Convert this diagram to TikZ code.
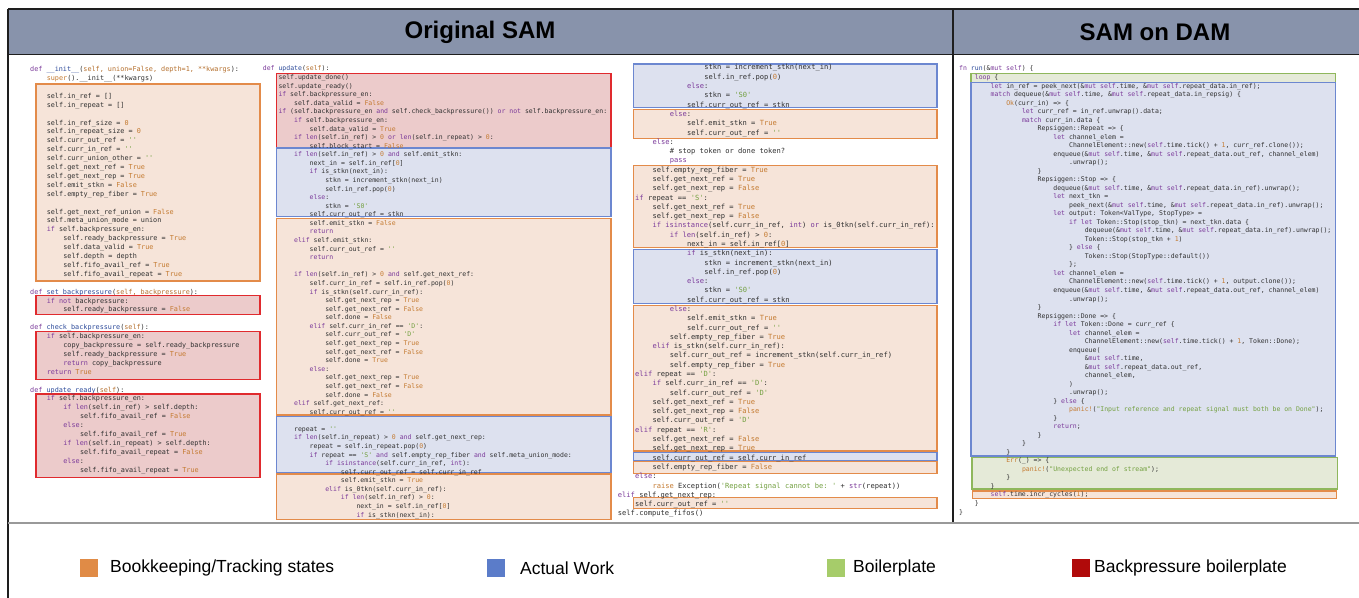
\documentclass[tikz,border=0pt]{standalone}
\usepackage{fontspec}
\setmainfont{Liberation Sans}
\setmonofont{DejaVu Sans Mono}
\definecolor{codec}{HTML}{303030}
\definecolor{kwc}{HTML}{7B3A9A}
\definecolor{fnc}{HTML}{2C4A9A}
\definecolor{vlc}{HTML}{C47A30}
\definecolor{stc}{HTML}{73A040}
\definecolor{pmc}{HTML}{B5702E}
\definecolor{headc}{HTML}{8893AB}
\definecolor{framec}{HTML}{1E1E1E}
\definecolor{oline}{HTML}{E38B4A}\definecolor{ofill}{HTML}{F6E4D9}
\definecolor{bline}{HTML}{6C87D0}\definecolor{bfill}{HTML}{DDE1EF}
\definecolor{rline}{HTML}{E02A2E}\definecolor{rfill}{HTML}{ECCBCB}
\definecolor{gline}{HTML}{8FB75C}\definecolor{gfill}{HTML}{E5EAD8}
\definecolor{legO}{HTML}{E08B46}\definecolor{legB}{HTML}{5B7CC9}
\definecolor{legG}{HTML}{A6CC6A}\definecolor{legR}{HTML}{B00A0A}
% syntax colouring
\newcommand\ckw[1]{\textcolor{kwc}{#1}}
\newcommand\cfn[1]{\textcolor{fnc}{#1}}
\newcommand\cvl[1]{\textcolor{vlc}{#1}}
\newcommand\cst[1]{\textcolor{stc}{#1}}
\newcommand\cpm[1]{\textcolor{pmc}{#1}}
% one code line: {line number}{indent level}{text}
\newcommand\lA[3]{\node[codeA] at ({30+16.6*#2},{69+8.9*#1}) {#3};}
\newcommand\lB[3]{\node[codeB] at ({262.7+15.6*#2},{68.33+8.58*#1}) {#3};}
\newcommand\lC[3]{\node[codeC] at ({617.7+17.3*#2},{67.33+9.29*#1}) {#3};}
\newcommand\lD[3]{\node[codeD] at ({959+15.7*#2},{68.33+8.52*#1}) {#3};}
\tikzset{
  codebase/.style={anchor=mid west, inner sep=0pt, text=codec},
  codeA/.style={codebase, font=\ttfamily\fontsize{6.8}{8}\selectfont},
  codeB/.style={codebase, font=\ttfamily\fontsize{6.5}{8}\selectfont},
  codeC/.style={codebase, font=\ttfamily\fontsize{7.1}{8}\selectfont},
  codeD/.style={codebase, font=\ttfamily\fontsize{6.5}{8}\selectfont},
  obox/.style={draw=oline, fill=ofill, line width=1.5pt},
  bbox/.style={draw=bline, fill=bfill, line width=1.5pt},
  rbox/.style={draw=rline, fill=rfill, line width=1.5pt},
  gbox/.style={draw=gline, fill=gfill, line width=1.5pt},
  legsq/.style={minimum width=18pt, minimum height=18pt, inner sep=0pt},
  legtxt/.style={anchor=west, inner sep=0pt, font=\fontsize{17.5}{21}\selectfont},
  head/.style={font=\bfseries\fontsize{24}{28}\selectfont, inner sep=0pt},
}
\begin{document}
\catcode`\_=12
\begin{tikzpicture}[x=1pt,y=-1pt]
\useasboundingbox (0,0) rectangle (1359,597);
\fill[white] (0,0) rectangle (1359,597);

% frame and header band
\fill[headc] (8,9) rectangle (1362,54.5);
\draw[framec, line width=1.2pt] (8,9) -- (8,600);
\draw[framec, line width=2pt] (8,9) -- (1362,9);
\draw[framec, line width=1.6pt] (8,54.5) -- (1362,54.5);
\draw[framec, line width=2pt] (952.7,9) -- (952.7,523);
\draw[black!40, line width=1.2pt] (8,523) -- (1362,523);
\node[head] (h1) at (480,32) {Original SAM};
\node[head] (h2) at (1155,32) {SAM on DAM};

% ---------- __init__ and helpers ----------
\draw[obox] (36,84) rectangle (260,281);
\draw[rbox] (36,295.7) rectangle (260,314.3);
\draw[rbox] (36,331.7) rectangle (260,379.3);
\draw[rbox] (36,394) rectangle (260,477.7);

\lA{0}{0}{\ckw{def} \cfn{__init__}(\cpm{self, union=False, depth=1, **kwargs}):}
\lA{1}{1}{\cvl{super}().__init__(**kwargs)}
\lA{3}{1}{self.in_ref = []}
\lA{4}{1}{self.in_repeat = []}
\lA{6}{1}{self.in_ref_size = \cvl{0}}
\lA{7}{1}{self.in_repeat_size = \cvl{0}}
\lA{8}{1}{self.curr_out_ref = \cst{''}}
\lA{9}{1}{self.curr_in_ref = \cst{''}}
\lA{10}{1}{self.curr_union_other = \cst{''}}
\lA{11}{1}{self.get_next_ref = \cvl{True}}
\lA{12}{1}{self.get_next_rep = \cvl{True}}
\lA{13}{1}{self.emit_stkn = \cvl{False}}
\lA{14}{1}{self.empty_rep_fiber = \cvl{True}}
\lA{16}{1}{self.get_next_ref_union = \cvl{False}}
\lA{17}{1}{self.meta_union_mode = union}
\lA{18}{1}{\ckw{if} self.backpressure_en:}
\lA{19}{2}{self.ready_backpressure = \cvl{True}}
\lA{20}{2}{self.data_valid = \cvl{True}}
\lA{21}{2}{self.depth = depth}
\lA{22}{2}{self.fifo_avail_ref = \cvl{True}}
\lA{23}{2}{self.fifo_avail_repeat = \cvl{True}}
\lA{25}{0}{\ckw{def} \cfn{set_backpressure}(\cpm{self, backpressure}):}
\lA{26}{1}{\ckw{if not} backpressure:}
\lA{27}{2}{self.ready_backpressure = \cvl{False}}
\lA{29}{0}{\ckw{def} \cfn{check_backpressure}(\cpm{self}):}
\lA{30}{1}{\ckw{if} self.backpressure_en:}
\lA{31}{2}{copy_backpressure = self.ready_backpressure}
\lA{32}{2}{self.ready_backpressure = \cvl{True}}
\lA{33}{2}{\ckw{return} copy_backpressure}
\lA{34}{1}{\ckw{return} \cvl{True}}
\lA{36}{0}{\ckw{def} \cfn{update_ready}(\cpm{self}):}
\lA{37}{1}{\ckw{if} self.backpressure_en:}
\lA{38}{2}{\ckw{if} \ckw{len}(self.in_ref) > self.depth:}
\lA{39}{3}{self.fifo_avail_ref = \cvl{False}}
\lA{40}{2}{\ckw{else}:}
\lA{41}{3}{self.fifo_avail_ref = \cvl{True}}
\lA{42}{2}{\ckw{if} \ckw{len}(self.in_repeat) > self.depth:}
\lA{43}{3}{self.fifo_avail_repeat = \cvl{False}}
\lA{44}{2}{\ckw{else}:}
\lA{45}{3}{self.fifo_avail_repeat = \cvl{True}}

% ---------- update(), first part ----------
\draw[rbox] (276.7,73.3) rectangle (611,148);
\draw[bbox] (276.7,148) rectangle (611,216.7);
\draw[obox] (276.7,218.3) rectangle (611,415);
\draw[bbox] (276.7,416.7) rectangle (611,472.3);
\draw[obox] (276.7,474) rectangle (611,519.3);

\lB{0}{0}{\ckw{def} \cfn{update}(\cpm{self}):}
\lB{1}{1}{self.update_done()}
\lB{2}{1}{self.update_ready()}
\lB{3}{1}{\ckw{if} self.backpressure_en:}
\lB{4}{2}{self.data_valid = \cvl{False}}
\lB{5}{1}{\ckw{if} (self.backpressure_en \ckw{and} self.check_backpressure()) \ckw{or not} self.backpressure_en:}
\lB{6}{2}{\ckw{if} self.backpressure_en:}
\lB{7}{3}{self.data_valid = \cvl{True}}
\lB{8}{2}{\ckw{if} \ckw{len}(self.in_ref) > \cvl{0} \ckw{or} \ckw{len}(self.in_repeat) > \cvl{0}:}
\lB{9}{3}{self.block_start = \cvl{False}}
\lB{10}{2}{\ckw{if} \ckw{len}(self.in_ref) > \cvl{0} \ckw{and} self.emit_stkn:}
\lB{11}{3}{next_in = self.in_ref[\cvl{0}]}
\lB{12}{3}{\ckw{if} is_stkn(next_in):}
\lB{13}{4}{stkn = increment_stkn(next_in)}
\lB{14}{4}{self.in_ref.pop(\cvl{0})}
\lB{15}{3}{\ckw{else}:}
\lB{16}{4}{stkn = \cst{'S0'}}
\lB{17}{3}{self.curr_out_ref = stkn}
\lB{18}{3}{self.emit_stkn = \cvl{False}}
\lB{19}{3}{\ckw{return}}
\lB{20}{2}{\ckw{elif} self.emit_stkn:}
\lB{21}{3}{self.curr_out_ref = \cst{''}}
\lB{22}{3}{\ckw{return}}
\lB{24}{2}{\ckw{if} \ckw{len}(self.in_ref) > \cvl{0} \ckw{and} self.get_next_ref:}
\lB{25}{3}{self.curr_in_ref = self.in_ref.pop(\cvl{0})}
\lB{26}{3}{\ckw{if} is_stkn(self.curr_in_ref):}
\lB{27}{4}{self.get_next_rep = \cvl{True}}
\lB{28}{4}{self.get_next_ref = \cvl{False}}
\lB{29}{4}{self.done = \cvl{False}}
\lB{30}{3}{\ckw{elif} self.curr_in_ref == \cst{'D'}:}
\lB{31}{4}{self.curr_out_ref = \cst{'D'}}
\lB{32}{4}{self.get_next_rep = \cvl{True}}
\lB{33}{4}{self.get_next_ref = \cvl{False}}
\lB{34}{4}{self.done = \cvl{True}}
\lB{35}{3}{\ckw{else}:}
\lB{36}{4}{self.get_next_rep = \cvl{True}}
\lB{37}{4}{self.get_next_ref = \cvl{False}}
\lB{38}{4}{self.done = \cvl{False}}
\lB{39}{2}{\ckw{elif} self.get_next_ref:}
\lB{40}{3}{self.curr_out_ref = \cst{''}}
\lB{42}{2}{repeat = \cst{''}}
\lB{43}{2}{\ckw{if} \ckw{len}(self.in_repeat) > \cvl{0} \ckw{and} self.get_next_rep:}
\lB{44}{3}{repeat = self.in_repeat.pop(\cvl{0})}
\lB{45}{3}{\ckw{if} repeat == \cst{'S'} \ckw{and} self.empty_rep_fiber \ckw{and} self.meta_union_mode:}
\lB{46}{4}{\ckw{if} \ckw{isinstance}(self.curr_in_ref, \ckw{int}):}
\lB{47}{5}{self.curr_out_ref = self.curr_in_ref}
\lB{48}{5}{self.emit_stkn = \cvl{True}}
\lB{49}{4}{\ckw{elif} is_0tkn(self.curr_in_ref):}
\lB{50}{5}{\ckw{if} \ckw{len}(self.in_ref) > \cvl{0}:}
\lB{51}{6}{next_in = self.in_ref[\cvl{0}]}
\lB{52}{6}{\ckw{if} is_stkn(next_in):}

% ---------- update(), second part ----------
\draw[bbox] (633.3,64) rectangle (937,107.7);
\draw[obox] (633.3,109.7) rectangle (937,138.3);
\draw[obox] (633.3,165.3) rectangle (937,247.7);
\draw[bbox] (633.3,249.3) rectangle (937,303.7);
\draw[obox] (633.3,305.7) rectangle (937,451);
\draw[bbox] (633.3,452.7) rectangle (937,460.3);
\draw[obox] (633.3,461.7) rectangle (937,473.3);
\draw[obox] (633.3,497.7) rectangle (937,508.7);

\lC{0}{5}{stkn = increment_stkn(next_in)}
\lC{1}{5}{self.in_ref.pop(\cvl{0})}
\lC{2}{4}{\ckw{else}:}
\lC{3}{5}{stkn = \cst{'S0'}}
\lC{4}{4}{self.curr_out_ref = stkn}
\lC{5}{3}{\ckw{else}:}
\lC{6}{4}{self.emit_stkn = \cvl{True}}
\lC{7}{4}{self.curr_out_ref = \cst{''}}
\lC{8}{2}{\ckw{else}:}
\lC{9}{3}{\# stop token or done token?}
\lC{10}{3}{\ckw{pass}}
\lC{11}{2}{self.empty_rep_fiber = \cvl{True}}
\lC{12}{2}{self.get_next_ref = \cvl{True}}
\lC{13}{2}{self.get_next_rep = \cvl{False}}
\lC{14}{1}{\ckw{if} repeat == \cst{'S'}:}
\lC{15}{2}{self.get_next_ref = \cvl{True}}
\lC{16}{2}{self.get_next_rep = \cvl{False}}
\lC{17}{2}{\ckw{if} \ckw{isinstance}(self.curr_in_ref, \ckw{int}) \ckw{or} is_0tkn(self.curr_in_ref):}
\lC{18}{3}{\ckw{if} \ckw{len}(self.in_ref) > \cvl{0}:}
\lC{19}{4}{next_in = self.in_ref[\cvl{0}]}
\lC{20}{4}{\ckw{if} is_stkn(next_in):}
\lC{21}{5}{stkn = increment_stkn(next_in)}
\lC{22}{5}{self.in_ref.pop(\cvl{0})}
\lC{23}{4}{\ckw{else}:}
\lC{24}{5}{stkn = \cst{'S0'}}
\lC{25}{4}{self.curr_out_ref = stkn}
\lC{26}{3}{\ckw{else}:}
\lC{27}{4}{self.emit_stkn = \cvl{True}}
\lC{28}{4}{self.curr_out_ref = \cst{''}}
\lC{29}{3}{self.empty_rep_fiber = \cvl{True}}
\lC{30}{2}{\ckw{elif} is_stkn(self.curr_in_ref):}
\lC{31}{3}{self.curr_out_ref = increment_stkn(self.curr_in_ref)}
\lC{32}{3}{self.empty_rep_fiber = \cvl{True}}
\lC{33}{1}{\ckw{elif} repeat == \cst{'D'}:}
\lC{34}{2}{\ckw{if} self.curr_in_ref == \cst{'D'}:}
\lC{35}{3}{self.curr_out_ref = \cst{'D'}}
\lC{36}{2}{self.get_next_ref = \cvl{True}}
\lC{37}{2}{self.get_next_rep = \cvl{False}}
\lC{38}{2}{self.curr_out_ref = \cst{'D'}}
\lC{39}{1}{\ckw{elif} repeat == \cst{'R'}:}
\lC{40}{2}{self.get_next_ref = \cvl{False}}
\lC{41}{2}{self.get_next_rep = \cvl{True}}
\lC{42}{2}{self.curr_out_ref = self.curr_in_ref}
\lC{43}{2}{self.empty_rep_fiber = \cvl{False}}
\lC{44}{1}{\ckw{else}:}
\lC{45}{2}{\cvl{raise} Exception(\cst{'Repeat signal cannot be: '} + \ckw{str}(repeat))}
\lC{46}{0}{\ckw{elif} self.get_next_rep:}
\lC{47}{1}{self.curr_out_ref = \cst{''}}
\lC{48}{0}{self.compute_fifos()}

% ---------- Rust run() ----------
\draw[gbox] (971,73.3) rectangle (1335.3,82.7);
\draw[bbox] (971,82.7) rectangle (1335.3,456);
\draw[gbox] (972,457.3) rectangle (1337.3,489);
\draw[obox] (972.3,491) rectangle (1336.7,498.3);

\lD{0}{0}{\ckw{fn} \cfn{run}(\&\ckw{mut} \ckw{self}) \{}
\lD{1}{1}{\ckw{loop} \{}
\lD{2}{2}{\ckw{let} in_ref = peek_next(\&\ckw{mut} \ckw{self}.time, \&\ckw{mut} \ckw{self}.repeat_data.in_ref);}
\lD{3}{2}{\ckw{match} dequeue(\&\ckw{mut} \ckw{self}.time, \&\ckw{mut} \ckw{self}.repeat_data.in_repsig) \{}
\lD{4}{3}{\cvl{Ok}(curr_in) => \{}
\lD{5}{4}{\ckw{let} curr_ref = in_ref.unwrap().data;}
\lD{6}{4}{\ckw{match} curr_in.data \{}
\lD{7}{5}{Repsiggen::Repeat => \{}
\lD{8}{6}{\ckw{let} channel_elem =}
\lD{9}{7}{ChannelElement::new(\ckw{self}.time.tick() + \cvl{1}, curr_ref.clone());}
\lD{10}{6}{enqueue(\&\ckw{mut} \ckw{self}.time, \&\ckw{mut} \ckw{self}.repeat_data.out_ref, channel_elem)}
\lD{11}{7}{.unwrap();}
\lD{12}{5}{\}}
\lD{13}{5}{Repsiggen::Stop => \{}
\lD{14}{6}{dequeue(\&\ckw{mut} \ckw{self}.time, \&\ckw{mut} \ckw{self}.repeat_data.in_ref).unwrap();}
\lD{15}{6}{\ckw{let} next_tkn =}
\lD{16}{7}{peek_next(\&\ckw{mut} \ckw{self}.time, \&\ckw{mut} \ckw{self}.repeat_data.in_ref).unwrap();}
\lD{17}{6}{\ckw{let} output: Token<ValType, StopType> =}
\lD{18}{7}{\ckw{if} \ckw{let} Token::Stop(stop_tkn) = next_tkn.data \{}
\lD{19}{8}{dequeue(\&\ckw{mut} \ckw{self}.time, \&\ckw{mut} \ckw{self}.repeat_data.in_ref).unwrap();}
\lD{20}{8}{Token::Stop(stop_tkn + \cvl{1})}
\lD{21}{7}{\} \ckw{else} \{}
\lD{22}{8}{Token::Stop(StopType::default())}
\lD{23}{7}{\};}
\lD{24}{6}{\ckw{let} channel_elem =}
\lD{25}{7}{ChannelElement::new(\ckw{self}.time.tick() + \cvl{1}, output.clone());}
\lD{26}{6}{enqueue(\&\ckw{mut} \ckw{self}.time, \&\ckw{mut} \ckw{self}.repeat_data.out_ref, channel_elem)}
\lD{27}{7}{.unwrap();}
\lD{28}{5}{\}}
\lD{29}{5}{Repsiggen::Done => \{}
\lD{30}{6}{\ckw{if} \ckw{let} Token::Done = curr_ref \{}
\lD{31}{7}{\ckw{let} channel_elem =}
\lD{32}{8}{ChannelElement::new(\ckw{self}.time.tick() + \cvl{1}, Token::Done);}
\lD{33}{7}{enqueue(}
\lD{34}{8}{\&\ckw{mut} \ckw{self}.time,}
\lD{35}{8}{\&\ckw{mut} \ckw{self}.repeat_data.out_ref,}
\lD{36}{8}{channel_elem,}
\lD{37}{7}{)}
\lD{38}{7}{.unwrap();}
\lD{39}{6}{\} \ckw{else} \{}
\lD{40}{7}{\cvl{panic!}(\cst{"Input reference and repeat signal must both be on Done"});}
\lD{41}{6}{\}}
\lD{42}{6}{\ckw{return};}
\lD{43}{5}{\}}
\lD{44}{4}{\}}
\lD{45}{3}{\}}
\lD{46}{3}{\cvl{Err}(_) => \{}
\lD{47}{4}{\cvl{panic!}(\cst{"Unexpected end of stream"});}
\lD{48}{3}{\}}
\lD{49}{2}{\}}
\lD{50}{2}{\ckw{self}.time.incr_cycles(\cvl{1});}
\lD{51}{1}{\}}
\lD{52}{0}{\}}

% ---------- legend ----------
\node[legsq, fill=legO] (kO) at (89,568) {};
\node[legtxt] (tO) at (110,568) {Bookkeeping/Tracking states};
\node[legsq, fill=legB] (kB) at (496,568) {};
\node[legtxt] (tB) at (520,568) {Actual Work};
\node[legsq, fill=legG] (kG) at (836,568) {};
\node[legtxt] (tG) at (853,568) {Boilerplate};
\node[legsq, fill=legR] (kR) at (1081,568) {};
\node[legtxt] (tR) at (1094,568) {Backpressure boilerplate};
\end{tikzpicture}
\end{document}
